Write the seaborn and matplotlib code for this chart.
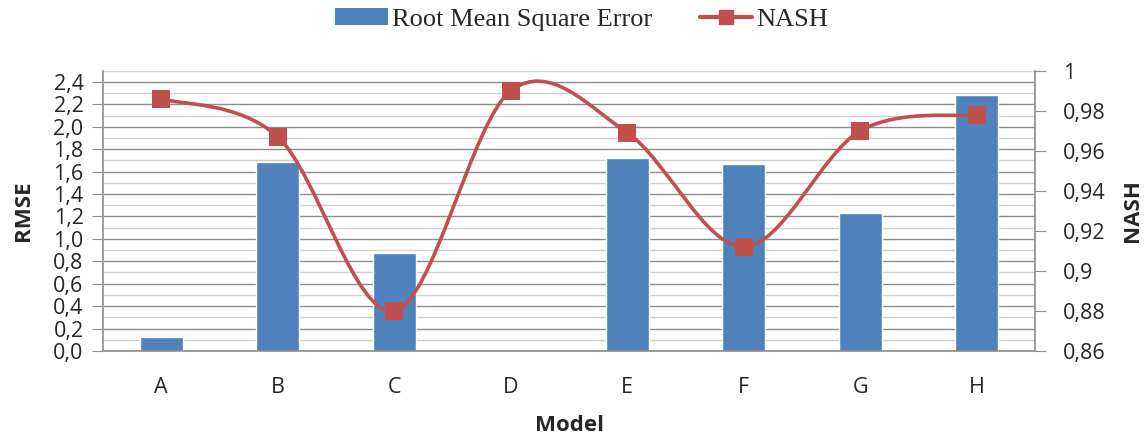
import matplotlib
matplotlib.use("Agg")
import matplotlib.pyplot as plt
import seaborn as sns
import pandas as pd
from matplotlib.path import Path
from matplotlib.patches import PathPatch, Patch
from matplotlib.lines import Line2D
from matplotlib.ticker import MultipleLocator, FixedLocator, FuncFormatter

models = ['A', 'B', 'C', 'D', 'E', 'F', 'G', 'H']
rmse = [0.125, 1.69, 0.875, 0.0, 1.72, 1.665, 1.23, 2.28]
nash = [0.986, 0.967, 0.880, 0.990, 0.969, 0.912, 0.970, 0.978]

BAR_COLOR = '#4F81BD'
LINE_COLOR = '#C0504D'
TICK_FONT = 'Open Sans'

df = pd.DataFrame({'Model': models, 'RMSE': rmse, 'NASH': nash})

sns.set_style('white')
fig = plt.figure(figsize=(11.45, 4.37), dpi=100)
ax = fig.add_axes([0.09, 0.197, 0.814, 0.641])

sns.barplot(data=df, x='Model', y='RMSE', color=BAR_COLOR, width=0.37,
            saturation=1, ax=ax, zorder=2)
ax.set_ylim(0, 2.5)
ax.set_xlim(-0.5, len(models) - 0.5)
ax.yaxis.set_major_locator(FixedLocator([i * 0.2 for i in range(13)]))
ax.yaxis.set_minor_locator(MultipleLocator(0.1))
ax.yaxis.set_major_formatter(FuncFormatter(lambda v, p: f'{v:.1f}'.replace('.', ',')))
ax.grid(True, which='major', axis='y', color='#8c8c8c', lw=1.0, zorder=0)
ax.grid(True, which='minor', axis='y', color='#cfcfcf', lw=1.0, zorder=0)
ax.set_axisbelow(True)
ax.tick_params(axis='y', which='major', length=8, color='#8c8c8c', labelsize=15.5, pad=6)
ax.tick_params(axis='y', which='minor', length=0)
ax.tick_params(axis='x', length=0, labelsize=15.5, pad=19)
for lab in ax.get_xticklabels() + ax.get_yticklabels():
    lab.set_fontfamily(TICK_FONT)
ax.set_xlabel('Model', fontsize=16, fontweight='bold', fontfamily=TICK_FONT, labelpad=12)
ax.set_ylabel('RMSE', fontsize=16, fontweight='bold', fontfamily=TICK_FONT, labelpad=14)
for s in ['top', 'right']:
    ax.spines[s].set_visible(False)
for s in ['left', 'bottom']:
    ax.spines[s].set_color('#8c8c8c')
    ax.spines[s].set_linewidth(1.2)

ax2 = ax.twinx()
ax2.set_ylim(0.86, 1.0)
ax2.yaxis.set_major_locator(FixedLocator([0.86 + 0.02 * i for i in range(8)]))
ax2.yaxis.set_major_formatter(FuncFormatter(lambda v, p: f'{round(v, 2):g}'.replace('.', ',')))
ax2.tick_params(axis='y', length=8, color='#8c8c8c', labelsize=15.5, pad=12)
for lab in ax2.get_yticklabels():
    lab.set_fontfamily(TICK_FONT)
ax2.set_ylabel('NASH', fontsize=16, fontweight='bold', fontfamily=TICK_FONT, labelpad=12)
for s in ['top', 'left', 'bottom']:
    ax2.spines[s].set_visible(False)
ax2.spines['right'].set_color('#8c8c8c')
ax2.spines['right'].set_linewidth(1.2)

# smoothed line (Excel-like Catmull-Rom Bezier through the points)
xs = list(range(len(models)))
pts = list(zip(xs, nash))
verts = [pts[0]]
codes = [Path.MOVETO]
for i in range(len(pts) - 1):
    p0 = pts[max(i - 1, 0)]
    p1 = pts[i]
    p2 = pts[i + 1]
    p3 = pts[min(i + 2, len(pts) - 1)]
    c1 = (p1[0] + (p2[0] - p0[0]) / 6, p1[1] + (p2[1] - p0[1]) / 6)
    c2 = (p2[0] - (p3[0] - p1[0]) / 6, p2[1] - (p3[1] - p1[1]) / 6)
    verts += [c1, c2, p2]
    codes += [Path.CURVE4] * 3
ax2.add_patch(PathPatch(Path(verts, codes), fill=False, edgecolor=LINE_COLOR,
                        lw=2.6, zorder=3))
sns.scatterplot(data=df, x='Model', y='NASH', marker='s', s=150, color=LINE_COLOR,
                edgecolor=LINE_COLOR, linewidth=0, ax=ax2, zorder=4, legend=False)
ax2.set_xlabel('')

handles = [Patch(facecolor=BAR_COLOR, edgecolor='none'),
           Line2D([], [], color=LINE_COLOR, lw=3, marker='s', markersize=10)]
fig.legend(handles, ['Root Mean Square Error', 'NASH'], loc='upper center',
           bbox_to_anchor=(0.508, 1.035), ncol=2, frameon=False,
           prop={'family': 'Liberation Serif', 'size': 19},
           handlelength=2.0, handleheight=0.6, handletextpad=0.15, columnspacing=1.8)

fig.savefig('out.png', dpi=100)
